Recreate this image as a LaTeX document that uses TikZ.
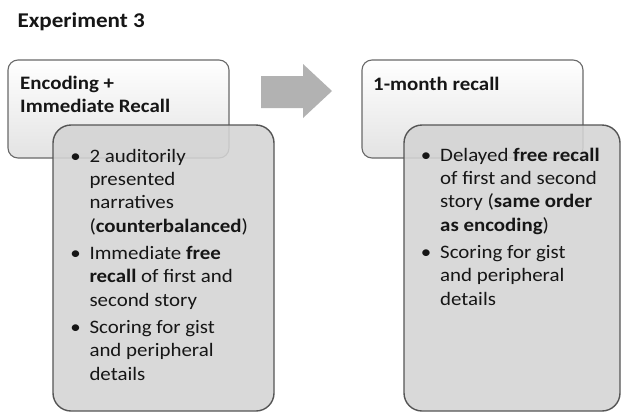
\documentclass[tikz,border=0pt]{standalone}
\usepackage{fontspec}
\setmainfont{Carlito}[FakeStretch=1.1]
\definecolor{lowfill}{RGB}{212,212,212}
\definecolor{lowline}{RGB}{85,85,85}
\definecolor{topline}{RGB}{105,105,105}
\definecolor{arrowfill}{RGB}{178,178,178}
\definecolor{ink}{RGB}{22,22,22}
\begin{document}
\begin{tikzpicture}[x=1pt,y=-1pt,
  topbox/.style={draw=topline, line width=1.1pt, rounded corners=10pt,
    top color=white, middle color=white, bottom color=black!11},
  lowbox/.style={draw=lowline, line width=1.4pt, rounded corners=18pt,
    fill=lowfill, fill opacity=0.88},
  bodytext/.style={inner sep=0pt, anchor=base west, text=ink,
    font=\fontsize{19}{23.3}\selectfont},
  bulletmark/.style={inner sep=0pt, anchor=base, text=ink,
    font=\fontsize{19}{23.3}\selectfont},
  headtext/.style={inner sep=0pt, anchor=base west, text=ink,
    font=\fontsize{19}{23.3}\selectfont\bfseries},
]
\useasboundingbox (0,0) rectangle (621,413);
\fill[white] (0,0) rectangle (621,413);

% title
\node[inner sep=0pt, anchor=base west, text=ink,
  font=\fontsize{21}{25}\selectfont\bfseries] (title) at (17.3,27.7) {Experiment 3};

% left column
\path[topbox] (8,60) rectangle (229,158);
\node[headtext] (lh1) at (20,89.3) {Encoding +};
\node[headtext] (lh2) at (20,112.7) {Immediate Recall};
\path[lowbox] (53,125) rectangle (274,411);

\foreach \yy/\txt [count=\i] in {
  162/{2 auditorily},
  185.3/{presented},
  208.7/{narratives},
  232/{(\textbf{counterbalanced})},
  259.3/{Immediate \textbf{free}},
  282.7/{\textbf{recall} of first and},
  306/{second story},
  333.3/{Scoring for gist},
  356.7/{and peripheral},
  380/{details}}
  \node[bodytext] (L\i) at (89.3,\yy) {\txt};
\foreach \yy [count=\i] in {162,259.3,333.3}
  \node[bulletmark] (LB\i) at (75.5,\yy) {•};

% arrow
\fill[arrowfill] (261,76) -- (303,76) -- (303,64) -- (332,91)
  -- (303,118) -- (303,108) -- (261,108) -- cycle;

% right column
\path[topbox] (362,60) rectangle (583,158);
\node[headtext] (rh1) at (373,90) {1-month recall};
\path[lowbox] (404,125) rectangle (620,411);

\foreach \yy/\txt [count=\i] in {
  161/{Delayed \textbf{free recall}},
  184.3/{of first and second},
  207.7/{story (\textbf{same order}},
  231/{\textbf{as encoding})},
  258.3/{Scoring for gist},
  281.7/{and peripheral},
  305/{details}}
  \node[bodytext] (R\i) at (440,\yy) {\txt};
\foreach \yy [count=\i] in {161,258.3}
  \node[bulletmark] (RB\i) at (426,\yy) {•};
\end{tikzpicture}
\end{document}
